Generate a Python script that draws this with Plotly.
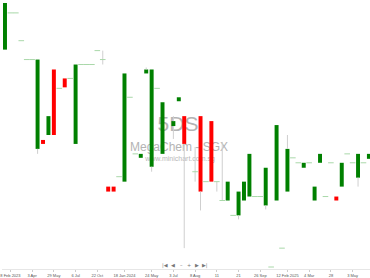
import plotly.graph_objects as go

# Candle data (price), None = no candle
opens = [0.370, 0.407, 0.407, 0.379, 0.360, 0.360, 0.270, 0.279, 0.284, 0.350,
         0.331, 0.341, 0.341, 0.275, 0.355, 0.355, 0.355, 0.369, 0.360, 0.232,
         0.232, 0.242, 0.237, 0.322, 0.265, 0.261, 0.346, 0.252, 0.331, 0.265,
         None, 0.293, 0.318, 0.303, None, 0.247, 0.303, 0.237, 0.298, 0.237,
         0.218, 0.218, 0.203, 0.203, 0.218, 0.222, 0.222, 0.222, 0.213, 0.151,
         0.218, 0.170, 0.227, 0.261, 0.256, 0.251, 0.256, 0.218, 0.256, 0.222,
         0.256, 0.222, 0.232, 0.265, 0.256, 0.241, 0.256, 0.260]
highs = [0.417, 0.407, 0.407, 0.379, 0.360, 0.360, 0.360, 0.279, 0.303, 0.350,
         0.331, 0.341, 0.341, 0.355, 0.355, 0.355, 0.355, 0.369, 0.369, 0.232,
         0.232, 0.242, 0.346, 0.322, 0.265, 0.265, 0.352, 0.350, 0.331, 0.317,
         None, 0.303, 0.322, 0.303, None, 0.272, 0.303, 0.237, 0.298, 0.237,
         0.277, 0.237, 0.203, 0.227, 0.237, 0.265, 0.222, 0.222, 0.251, 0.151,
         0.294, 0.170, 0.284, 0.261, 0.256, 0.256, 0.256, 0.232, 0.265, 0.222,
         0.256, 0.222, 0.256, 0.265, 0.256, 0.265, 0.256, 0.265]
lows = [0.370, 0.407, 0.407, 0.379, 0.360, 0.360, 0.265, 0.275, 0.284, 0.284,
        0.331, 0.332, 0.341, 0.275, 0.355, 0.355, 0.355, 0.369, 0.355, 0.227,
        0.227, 0.242, 0.237, 0.322, 0.265, 0.261, 0.346, 0.247, 0.331, 0.265,
        None, 0.280, 0.318, 0.170, None, 0.237, 0.208, 0.237, 0.237, 0.227,
        0.218, 0.218, 0.203, 0.199, 0.218, 0.222, 0.222, 0.222, 0.209, 0.151,
        0.218, 0.170, 0.227, 0.261, 0.256, 0.251, 0.256, 0.218, 0.256, 0.222,
        0.256, 0.218, 0.232, 0.265, 0.256, 0.232, 0.256, 0.260]
closes = [0.417, 0.407, 0.407, 0.379, 0.360, 0.360, 0.360, 0.275, 0.303, 0.284,
          0.331, 0.332, 0.341, 0.355, 0.355, 0.355, 0.355, 0.369, 0.360, 0.227,
          0.227, 0.242, 0.346, 0.322, 0.265, 0.265, 0.350, 0.350, 0.331, 0.317,
          None, 0.298, 0.322, 0.275, None, 0.247, 0.227, 0.237, 0.237, 0.237,
          0.218, 0.237, 0.203, 0.227, 0.237, 0.265, 0.222, 0.222, 0.251, 0.151,
          0.294, 0.170, 0.270, 0.261, 0.256, 0.256, 0.256, 0.232, 0.265, 0.222,
          0.256, 0.218, 0.256, 0.265, 0.256, 0.265, 0.256, 0.265]

tick_idx = [1, 5, 9, 13, 17, 22, 27, 31, 35, 39, 43, 47, 52, 56, 60, 64]
tick_text = ["8 Feb 2023", "3 Apr", "29 May", "6 Jul", "22 Oct", "18 Jan 2024",
             "24 May", "3 Jul", "8 Aug", "11", "21", "26 Sep", "12 Feb 2025",
             "4 Mar", "28", "3 May"]

W, H = 370, 278
MB = 7
plot_h = H - MB

idx = list(range(len(opens)))

up_x, up_b, up_h = [], [], []
dn_x, dn_b, dn_h = [], [], []
fl_x, fl_y = [], []
wx, wy = [], []
for i, o, hi, lo, c in zip(idx, opens, highs, lows, closes):
    if o is None:
        continue
    top, bot = max(o, c), min(o, c)
    if hi > top:
        wx += [i, i, None]; wy += [hi, top, None]
    if lo < bot:
        wx += [i, i, None]; wy += [bot, lo, None]
    if c > o:
        up_x.append(i); up_b.append(o); up_h.append(c - o)
    elif c < o:
        dn_x.append(i); dn_b.append(c); dn_h.append(o - c)
    else:
        fl_x.append(i); fl_y.append(c)

fig = go.Figure()
fig.add_trace(go.Scatter(x=wx, y=wy, mode="lines", line=dict(color="#cfcfcf", width=1),
                         hoverinfo="skip", showlegend=False))
fig.add_trace(go.Bar(x=up_x, y=up_h, base=up_b, width=0.73, marker=dict(color="#008000", line=dict(width=0)),
                     showlegend=False))
fig.add_trace(go.Bar(x=dn_x, y=dn_h, base=dn_b, width=0.73, marker=dict(color="#ff0000", line=dict(width=0)),
                     showlegend=False))
fig.add_trace(go.Scatter(x=fl_x, y=fl_y, mode="markers",
                         marker=dict(symbol="line-ew", size=4, line=dict(color="#a9d8a9", width=1)),
                         showlegend=False))

def wm(text, xc, yc, size, color):
    xp = xc / W
    yp = (plot_h - yc) / plot_h
    fig.add_shape(type="rect", xref="paper", yref="paper",
                  x0=xp - 0.2, x1=xp + 0.2, y0=yp - 0.04, y1=yp + 0.04,
                  line=dict(width=0), fillcolor="rgba(0,0,0,0)", layer="below",
                  label=dict(text=text, textposition="middle center",
                             font=dict(size=size, color=color, family="Liberation Sans, Arial")))

wm("5DS", 177, 122, 21, "#b4b4b4")
wm("MegaChem - SGX", 178, 147, 12, "#b4b4b4")
wm("www.minichart.com.sg", 179, 159, 7, "#b8b8b8")

nav = [("|◀", 164), ("◀", 172), ("–", 180), ("+", 188), ("▶", 196), ("▶|", 204)]
for t, xc in nav:
    fig.add_annotation(text=t, xref="paper", yref="paper", x=xc / W, y=(plot_h - 267) / plot_h,
                       showarrow=False, font=dict(size=5, color="#777", family="DejaVu Sans"),
                       xanchor="center", yanchor="middle")

fig.update_layout(
    width=W, height=H, margin=dict(l=0, r=0, t=0, b=MB),
    paper_bgcolor="white", plot_bgcolor="white", barmode="overlay",
    xaxis=dict(range=[-0.55, 67.2], showgrid=False, zeroline=False,
               tickmode="array", tickvals=tick_idx, ticktext=tick_text,
               ticks="outside", ticklen=2, tickcolor="#cccccc",
               ticklabeloverflow="allow",
               showline=True, linecolor="#e6e6e6", linewidth=1,
               tickfont=dict(size=4, color="#555", family="Liberation Sans, Arial")),
    yaxis=dict(range=[0.420 - plot_h / 1000.0, 0.420], visible=False, showgrid=False, zeroline=False),
)

fig.write_html("out.html")
